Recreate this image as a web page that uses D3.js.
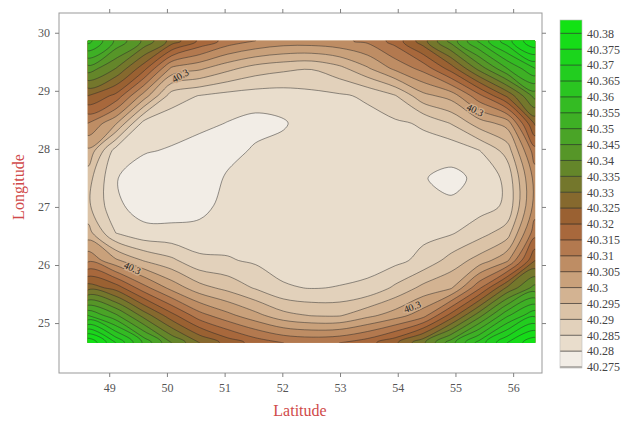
<!DOCTYPE html>
<html>
<head>
<meta charset="utf-8">
<script src="https://cdn.jsdelivr.net/npm/d3@7"></script>
<style>
body{margin:0;background:#fff}
svg text{font-family:"Liberation Serif","Times New Roman",serif}
</style>
</head>
<body>
<svg width="635" height="422"></svg>
<script>
// grid positions (latitude across, longitude down from the top row)
const lats = [48.63, 49.11, 49.60, 50.08, 50.57, 51.05, 51.54, 52.02, 52.51, 52.99, 53.47, 53.96, 54.44, 54.93, 55.41, 55.90, 56.38];
const lons = [29.86, 29.39, 28.92, 28.44, 27.97, 27.50, 27.02, 26.55, 26.08, 25.61, 25.13, 24.66];

// values, one row per longitude
const z2986 = [40.362, 40.349, 40.339, 40.328, 40.319, 40.313, 40.310, 40.308, 40.308, 40.309, 40.311, 40.317, 40.328, 40.342, 40.356, 40.368, 40.380];
const z2939 = [40.343, 40.335, 40.322, 40.304, 40.301, 40.2965, 40.2928, 40.2911, 40.2903, 40.2935, 40.2994, 40.3063, 40.3118, 40.3225, 40.337, 40.350, 40.360];
const z2892 = [40.325, 40.3186, 40.3028, 40.2873, 40.2848, 40.2832, 40.2825, 40.2825, 40.2835, 40.2843, 40.2858, 40.2897, 40.2985, 40.302, 40.3135, 40.326, 40.342];
const z2844 = [40.310, 40.3007, 40.2832, 40.2822, 40.2815, 40.2798, 40.2785, 40.2795, 40.2825, 40.2828, 40.2832, 40.2842, 40.2856, 40.2903, 40.2975, 40.302, 40.326];
const z2797 = [40.299, 40.2828, 40.2805, 40.2795, 40.2775, 40.2785, 40.2806, 40.2815, 40.282, 40.282, 40.2822, 40.2826, 40.2832, 40.2815, 40.2848, 40.292, 40.313];
const z2750 = [40.292, 40.2803, 40.277, 40.2768, 40.277, 40.2806, 40.2815, 40.2815, 40.2818, 40.2815, 40.2817, 40.282, 40.2802, 40.279, 40.2808, 40.2864, 40.307];
const z2702 = [40.291, 40.281, 40.2778, 40.2778, 40.2785, 40.2815, 40.2817, 40.2815, 40.2818, 40.2815, 40.2817, 40.2822, 40.2818, 40.2806, 40.2828, 40.2858, 40.307];
const z2655 = [40.297, 40.285, 40.2815, 40.2813, 40.2815, 40.2825, 40.282, 40.282, 40.282, 40.282, 40.2822, 40.2828, 40.2838, 40.2845, 40.288, 40.2925, 40.313];
const z2608 = [40.309, 40.301, 40.2947, 40.2911, 40.2862, 40.2855, 40.2842, 40.2832, 40.283, 40.283, 40.2828, 40.2836, 40.2865, 40.292, 40.297, 40.304, 40.325];
const z2561 = [40.328, 40.323, 40.312, 40.3033, 40.2969, 40.2935, 40.2895, 40.2855, 40.2848, 40.2852, 40.2862, 40.291, 40.2965, 40.2995, 40.314, 40.331, 40.342];
const z2513 = [40.355, 40.346, 40.333, 40.3217, 40.312, 40.3065, 40.3016, 40.2967, 40.2947, 40.2945, 40.2985, 40.3025, 40.308, 40.322, 40.338, 40.354, 40.364];
const z2466 = [40.385, 40.370, 40.354, 40.340, 40.330, 40.323, 40.318, 40.315, 40.314, 40.315, 40.318, 40.324, 40.334, 40.348, 40.362, 40.375, 40.384];

const levels = [40.275, 40.28, 40.285, 40.29, 40.295, 40.3, 40.305, 40.31, 40.315, 40.32, 40.325,
                40.33, 40.335, 40.34, 40.345, 40.35, 40.355, 40.36, 40.365, 40.37, 40.375, 40.38];
const bandColors = ['#f2ede6', '#e9ddcc', '#e2d1bb', '#dbc3a7', '#d3b392', '#c9a17b', '#be8d64', '#b3794f',
                    '#a8683c', '#9a6132', '#86692e', '#74772c', '#64862a', '#569628', '#4aa427', '#3eb025',
                    '#34bb23', '#2ac521', '#22cd1f', '#1bd51c', '#16dc18', '#12e214'];

const latTicks = [49, 50, 51, 52, 53, 54, 55, 56];
const lonTicks = [25, 26, 27, 28, 29, 30];

// where the "40.3" labels sit on the contour
const labelLat = [50.23, 55.34, 49.40, 54.25];
const labelLon = [29.26, 28.67, 25.95, 25.28];
const labelAngle = [-30, 25, 25, -20];

const serif = '"Liberation Serif","Times New Roman",serif';
const svg = d3.select('svg');
const x = d3.scaleLinear().domain([48.13, 56.5]).range([59, 542]);
const y = d3.scaleLinear().domain([24.14, 30.34]).range([373, 13]);

const n = lats.length, m = lons.length;
const zRows = [z2986, z2939, z2892, z2844, z2797, z2750, z2702, z2655, z2608, z2561, z2513, z2466];
const values = zRows.flat();

// grid index -> lat/lon (sample i sits at contour coordinate i+0.5)
const ix = d3.scaleLinear().domain([0, n - 1]).range([lats[0], lats[n - 1]]);
const iy = d3.scaleLinear().domain([0, m - 1]).range([lons[0], lons[m - 1]]);
const toPx = p => [x(ix(p[0] - 0.5)), y(iy(p[1] - 0.5))];

const contours = d3.contours().size([n, m]).thresholds(levels)(values);
const ringLine = d3.line().curve(d3.curveCatmullRomClosed.alpha(0.5));
const pathOf = c => c.coordinates
  .map(poly => poly.map(ring => ringLine(ring.slice(0, -1).map(toPx))).join(''))
  .join('');

svg.append('clipPath').attr('id', 'clip').append('rect')
  .attr('x', x(lats[0])).attr('y', y(lons[0]))
  .attr('width', x(lats[n - 1]) - x(lats[0]))
  .attr('height', y(lons[m - 1]) - y(lons[0]));

const gMap = svg.append('g').attr('clip-path', 'url(#clip)');
gMap.selectAll('path.band').data(contours).join('path')
  .attr('class', 'band')
  .attr('d', pathOf)
  .attr('fill-rule', 'evenodd')
  .attr('fill', (d, i) => bandColors[i]);

gMap.selectAll('path.iso').data(contours.slice(1)).join('path')
  .attr('class', 'iso')
  .attr('d', pathOf)
  .attr('fill', 'none')
  .attr('stroke', '#2a2a2a')
  .attr('stroke-opacity', 0.7)
  .attr('stroke-width', 0.7);

// contour labels
svg.selectAll('text.clab').data(labelLat).join('text')
  .attr('class', 'clab')
  .attr('transform', (d, i) => `translate(${x(d)},${y(labelLon[i])}) rotate(${labelAngle[i]})`)
  .attr('text-anchor', 'middle')
  .attr('dy', '0.35em')
  .attr('font-size', 10)
  .attr('fill', '#222')
  .attr('stroke', '#cfab88')
  .attr('stroke-width', 3)
  .attr('paint-order', 'stroke')
  .text('40.3');

// frame
svg.append('rect')
  .attr('x', 59).attr('y', 13).attr('width', 483).attr('height', 360)
  .attr('fill', 'none').attr('stroke', '#999');

const styleAxis = g => {
  g.attr('font-family', null);
  g.select('.domain').remove();
  g.selectAll('.tick line').attr('stroke', '#808080');
  g.selectAll('.tick text').attr('fill', '#555').attr('font-size', 12)
    .style('font-family', serif);
};

svg.append('g').attr('transform', 'translate(0,373)')
  .call(d3.axisBottom(x).tickValues(latTicks).tickSize(4).tickPadding(6).tickFormat(d3.format('d')))
  .call(styleAxis);
svg.append('g').attr('transform', 'translate(0,13)')
  .call(d3.axisTop(x).tickValues(latTicks).tickSize(4).tickFormat('')).call(styleAxis);
svg.append('g').attr('transform', 'translate(59,0)')
  .call(d3.axisLeft(y).tickValues(lonTicks).tickSize(4).tickPadding(5).tickFormat(d3.format('d')))
  .call(styleAxis);
svg.append('g').attr('transform', 'translate(542,0)')
  .call(d3.axisRight(y).tickValues(lonTicks).tickSize(4).tickFormat('')).call(styleAxis);

// axis titles
svg.append('text')
  .attr('transform', 'translate(24,187) rotate(-90)')
  .attr('text-anchor', 'middle')
  .attr('font-size', 16)
  .attr('fill', '#d04a4a')
  .text('Longitude');
svg.append('text')
  .attr('x', 300).attr('y', 416)
  .attr('text-anchor', 'middle')
  .attr('font-size', 16)
  .attr('fill', '#d04a4a')
  .text('Latitude');

// colour bar
const cb = d3.scaleLinear().domain([40.2747, 40.3842]).range([368, 20]);
const last = levels.length - 1;
const lo = i => i === 0 ? cb.domain()[0] : levels[i];
const hi = i => i === last ? cb.domain()[1] : levels[i + 1];

const gBar = svg.append('g');
gBar.selectAll('rect').data(levels).join('rect')
  .attr('x', 560).attr('width', 22)
  .attr('y', (d, i) => cb(hi(i)))
  .attr('height', (d, i) => cb(lo(i)) - cb(hi(i)) + 0.3)
  .attr('fill', (d, i) => bandColors[i]);
gBar.selectAll('line').data(levels).join('line')
  .attr('x1', 560).attr('x2', 582)
  .attr('y1', d => cb(d)).attr('y2', d => cb(d))
  .attr('stroke', '#222').attr('stroke-opacity', 0.8).attr('stroke-width', 0.8);
gBar.append('rect')
  .attr('x', 560).attr('y', 20).attr('width', 22).attr('height', 348)
  .attr('fill', 'none').attr('stroke', '#bbb').attr('stroke-width', 0.6);

svg.append('g').attr('transform', 'translate(582,0)')
  .call(d3.axisRight(cb).tickValues(levels).tickSize(0).tickPadding(5)
    .tickFormat(d => String(+d.toFixed(3))))
  .call(styleAxis)
  .call(g => g.selectAll('.tick text').attr('fill', '#444'));
</script>
</body>
</html>
